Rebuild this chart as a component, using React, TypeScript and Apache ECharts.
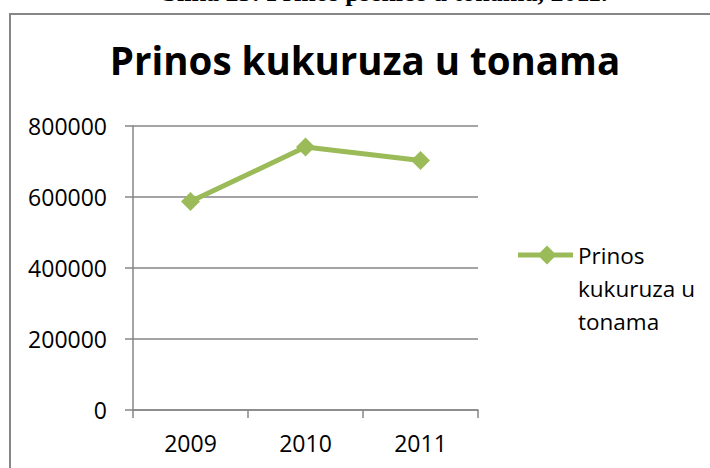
import React, { useEffect, useRef } from 'react';
import * as echarts from 'echarts';

const categories = ['2009', '2010', '2011'];
const yieldValues = [587000, 741000, 703000];
const seriesName = 'Prinos kukuruza u tonama';
const legendLines = ['Prinos', 'kukuruza u', 'tonama'];
const yMin = 0;
const yMax = 800000;
const yInterval = 200000;
const titleText = 'Prinos kukuruza u tonama';
const captionText = 'Slika 23: Prinos pšenice u tonama, 2011.';

const GREEN = '#9BBB59';
const GRID = '#868686';
const FONT = '"Open Sans", sans-serif';

const legendIconPath =
  'path://M0 0L0.01 0L0 0.01Z M0 14L55 14L55 19L0 19Z M29 7L38.5 16.5L29 26L19.5 16.5Z M54.99 99L55 99L55 98.99Z';

export default function App() {
  const ref = useRef<HTMLDivElement>(null);
  useEffect(() => {
    if (!ref.current) return;
    const chart = echarts.init(ref.current, undefined, { renderer: 'svg' });
    const axisLineStyle = { color: GRID, width: 1.5 };
    chart.setOption({
      animation: false,
      backgroundColor: '#fff',
      title: {
        text: titleText,
        left: 365,
        top: 40,
        padding: 0,
        textAlign: 'center',
        textStyle: { fontFamily: FONT, fontSize: 38.5, fontWeight: 'bold', color: '#000' },
      },
      graphic: [
        {
          type: 'rect',
          silent: true,
          z: -10,
          shape: { x: 10, y: 14, width: 760, height: 520 },
          style: { fill: 'none', stroke: '#878787', lineWidth: 2 },
        },
        {
          type: 'text',
          silent: true,
          x: 385,
          y: -8,
          style: {
            text: captionText,
            fontSize: 26,
            fontWeight: 'bold',
            fontFamily: '"Liberation Serif", serif',
            fill: '#000',
            align: 'center',
            verticalAlign: 'middle',
          },
        },
      ],
      legend: {
        data: [seriesName],
        left: 518,
        top: 238.5,
        orient: 'vertical',
        padding: 0,
        itemWidth: 55,
        itemHeight: 99,
        itemGap: 0,
        icon: legendIconPath,
        itemStyle: { color: GREEN, borderWidth: 0 },
        formatter: () => legendLines.join('\n'),
        textStyle: { fontFamily: FONT, fontSize: 22.5, lineHeight: 33, color: '#000' },
      },
      grid: { left: 133, right: 232, top: 126, bottom: 58, containLabel: false },
      xAxis: {
        type: 'category',
        data: categories,
        boundaryGap: true,
        axisLine: { lineStyle: axisLineStyle },
        axisTick: { show: true, length: 8, interval: 0, alignWithLabel: false, lineStyle: axisLineStyle },
        axisLabel: { color: '#000', fontFamily: FONT, fontSize: 23, margin: 21 },
        splitLine: { show: false },
      },
      yAxis: {
        type: 'value',
        min: yMin,
        max: yMax,
        interval: yInterval,
        axisLine: { show: true, lineStyle: axisLineStyle },
        axisTick: { show: true, length: 8, lineStyle: axisLineStyle },
        axisLabel: {
          color: '#000',
          fontFamily: FONT,
          fontSize: 23,
          margin: 26,
          formatter: (v: number) => String(v),
        },
        splitLine: { show: true, lineStyle: axisLineStyle },
      },
      series: [
        {
          type: 'line',
          name: seriesName,
          data: yieldValues,
          symbol: 'diamond',
          symbolSize: 19,
          lineStyle: { color: GREEN, width: 5 },
          itemStyle: { color: GREEN, borderWidth: 0 },
        },
      ],
    });
    return () => chart.dispose();
  }, []);
  return (
    <div
      ref={ref}
      style={{ position: 'absolute', left: 0, top: 0, width: 710, height: 468 }}
    />
  );
}
